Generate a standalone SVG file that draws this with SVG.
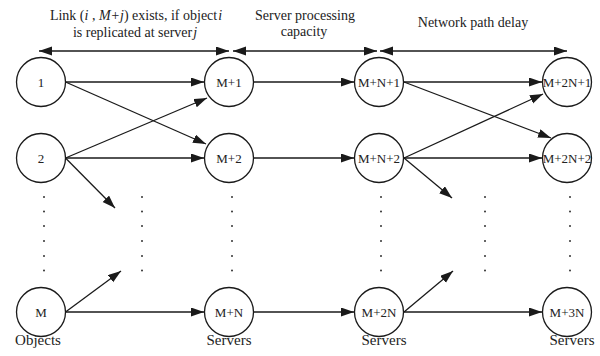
<svg xmlns="http://www.w3.org/2000/svg" width="600" height="356" viewBox="0 0 600 356">
<style>
.n circle{fill:#fff;stroke:#1a1a1a;stroke-width:1.3}
.n text{font-family:"Liberation Serif","Times New Roman",serif;font-size:13px;fill:#222;text-anchor:middle}
.t{font-family:"Liberation Serif","Times New Roman",serif;font-size:14px;fill:#222;text-anchor:middle}
.b{font-size:15px}
.c line{stroke:#1a1a1a;stroke-width:1.3;marker-end:url(#ah)}
.c line.d{marker-start:url(#ah)}
.dot{fill:#333}
</style>
<defs>
<marker id="ah" markerUnits="userSpaceOnUse" markerWidth="14" markerHeight="10" refX="13" refY="4.5" orient="auto-start-reverse">
<path d="M0,0 L13,4.5 L0,9 z" fill="#1a1a1a"/>
</marker>
</defs>
<rect width="600" height="356" fill="#fff"/>
<text class="t" x="136" y="20">Link (<tspan font-style="italic">i</tspan> , <tspan font-style="italic">M+j</tspan>) exists, if object<tspan font-style="italic" dx="1">i</tspan></text>
<text class="t" x="135" y="37">is replicated at server<tspan font-style="italic" dx="1">j</tspan></text>
<text class="t" x="305" y="20">Server processing</text>
<text class="t" x="304" y="36">capacity</text>
<text class="t" x="473" y="27">Network path delay</text>
<text class="t b" x="38" y="345">Objects</text>
<text class="t b" x="229" y="345">Servers</text>
<text class="t b" x="384" y="345">Servers</text>
<text class="t b" x="572" y="345">Servers</text>
<g class="c">
<line class="d" x1="39" y1="51" x2="229" y2="51"/>
<line class="d" x1="233" y1="51" x2="377" y2="51"/>
<line class="d" x1="380" y1="51" x2="567" y2="51"/>
<line x1="65.5" y1="82" x2="204" y2="82"/>
<line x1="65.5" y1="82" x2="206" y2="144"/>
<line x1="65.5" y1="158" x2="207" y2="98"/>
<line x1="65.5" y1="158" x2="204" y2="158"/>
<line x1="65.5" y1="158" x2="115" y2="208"/>
<line x1="65.5" y1="312" x2="121" y2="271"/>
<line x1="65.5" y1="312" x2="204" y2="312"/>
<line x1="253.5" y1="82" x2="354" y2="82"/>
<line x1="253.5" y1="158" x2="354" y2="158"/>
<line x1="253.5" y1="312" x2="354" y2="312"/>
<line x1="404" y1="82" x2="542" y2="82"/>
<line x1="404" y1="82" x2="551" y2="138"/>
<line x1="404" y1="158" x2="543" y2="94"/>
<line x1="404" y1="158" x2="542" y2="158"/>
<line x1="404" y1="158" x2="452" y2="198"/>
<line x1="404" y1="312" x2="453" y2="271"/>
<line x1="404" y1="312" x2="542" y2="312"/>
</g>
<g id="dots" class="dot">
<g id="dc1"><circle cx="44" cy="197" r="1"/><circle cx="44" cy="211.5" r="1"/><circle cx="44" cy="226" r="1"/><circle cx="44" cy="241" r="1"/><circle cx="44" cy="256" r="1"/><circle cx="44" cy="270.5" r="1"/></g>
<g id="dc2"><circle cx="142" cy="197" r="1"/><circle cx="142" cy="211.5" r="1"/><circle cx="142" cy="226" r="1"/><circle cx="142" cy="241" r="1"/><circle cx="142" cy="256" r="1"/><circle cx="142" cy="270.5" r="1"/></g>
<g id="dc3"><circle cx="232" cy="197" r="1"/><circle cx="232" cy="211.5" r="1"/><circle cx="232" cy="226" r="1"/><circle cx="232" cy="241" r="1"/><circle cx="232" cy="256" r="1"/><circle cx="232" cy="270.5" r="1"/></g>
<g id="dc4"><circle cx="381" cy="197" r="1"/><circle cx="381" cy="211.5" r="1"/><circle cx="381" cy="226" r="1"/><circle cx="381" cy="241" r="1"/><circle cx="381" cy="256" r="1"/><circle cx="381" cy="270.5" r="1"/></g>
<g id="dc5"><circle cx="485" cy="197" r="1"/><circle cx="485" cy="211.5" r="1"/><circle cx="485" cy="226" r="1"/><circle cx="485" cy="241" r="1"/><circle cx="485" cy="256" r="1"/><circle cx="485" cy="270.5" r="1"/></g>
<g id="dc6"><circle cx="570" cy="197" r="1"/><circle cx="570" cy="211.5" r="1"/><circle cx="570" cy="226" r="1"/><circle cx="570" cy="241" r="1"/><circle cx="570" cy="256" r="1"/><circle cx="570" cy="270.5" r="1"/></g>
</g>
<g id="n1" class="n"><circle cx="41" cy="82" r="24.5"/><text x="41" y="86.5">1</text></g>
<g id="n2" class="n"><circle cx="41" cy="158" r="24.5"/><text x="41" y="162.5">2</text></g>
<g id="nM" class="n"><circle cx="41" cy="312" r="24.5"/><text x="41" y="316.5">M</text></g>
<g id="nM1" class="n"><circle cx="229" cy="82" r="24.5"/><text x="229" y="86.5">M+1</text></g>
<g id="nM2" class="n"><circle cx="229" cy="158" r="24.5"/><text x="229" y="162.5">M+2</text></g>
<g id="nMN" class="n"><circle cx="229" cy="312" r="24.5"/><text x="229" y="316.5">M+N</text></g>
<g id="nMN1" class="n"><circle cx="379" cy="82" r="24.5"/><text x="379" y="86.5">M+N+1</text></g>
<g id="nMN2" class="n"><circle cx="379" cy="158" r="24.5"/><text x="379" y="162.5">M+N+2</text></g>
<g id="nM2N" class="n"><circle cx="379" cy="312" r="24.5"/><text x="379" y="316.5">M+2N</text></g>
<g id="nM2N1" class="n"><circle cx="567" cy="82" r="24.5"/><text x="567" y="86.5">M+2N+1</text></g>
<g id="nM2N2" class="n"><circle cx="567" cy="158" r="24.5"/><text x="567" y="162.5">M+2N+2</text></g>
<g id="nM3N" class="n"><circle cx="567" cy="312" r="24.5"/><text x="567" y="316.5">M+3N</text></g>
</svg>
